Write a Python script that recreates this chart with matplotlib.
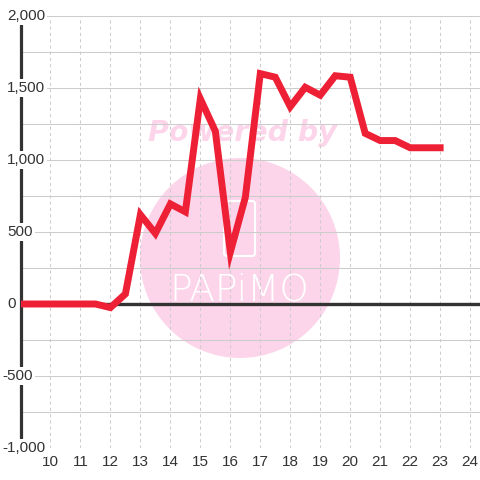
import numpy as np
import matplotlib
matplotlib.use("Agg")
import matplotlib.pyplot as plt
import matplotlib.transforms as mtransforms
from matplotlib.patches import Circle, FancyBboxPatch

# データ (時刻, 差枚)
hours = [9, 9.5, 10, 10.5, 11, 11.5, 12, 12.5, 13, 13.5, 14, 14.5, 15, 15.5,
         16, 16.5, 17, 17.5, 18, 18.5, 19, 19.5, 20, 20.5, 21, 21.5, 22, 22.5, 23]
values = [0, 0, 0, 0, 0, 0, -25, 70, 620, 490, 695, 640, 1425, 1200,
          360, 740, 1600, 1575, 1370, 1505, 1450, 1585, 1575, 1185, 1135, 1135, 1085, 1085, 1085]
x_ticks = list(range(10, 25))
y_labels = [2000, 1500, 1000, 500, 0, -500, -1000]

plt.rcParams['font.family'] = ['Liberation Sans', 'DejaVu Sans']
txt_color = '#333333'
grid_color = '#cccccc'
pink = '#fcd5ea'

fig = plt.figure(figsize=(4.8, 4.8), dpi=100)
ax = fig.add_axes([20.5 / 480, 32 / 480, 459.5 / 480, 432 / 480])
ax.set_xlim(9, 24.33)
ax.set_ylim(-1000, 2000)
ax.set_axisbelow(True)

# grid
ax.set_xticks(x_ticks)
ax.set_yticks(np.arange(-1000, 2001, 250))
ax.xaxis.grid(True, color=grid_color, lw=0.75, linestyle=(0, (3, 3)))
ax.yaxis.grid(True, color=grid_color, lw=0.75)
ax.tick_params(axis='both', length=0)
ax.tick_params(axis='x', labelsize=11, labelcolor=txt_color, pad=5)
ax.set_yticklabels([])

for side in ['top', 'right', 'bottom']:
    ax.spines[side].set_visible(False)
ax.spines['left'].set_color(txt_color)
ax.spines['left'].set_linewidth(2.3)

# watermark
ax.add_patch(Circle((240 / 480, 222 / 480), 100 / 480, transform=fig.transFigure,
                    fc=pink, ec='none', zorder=0.2))
ax.text(242 / 480, 347 / 480, 'Powered by', transform=fig.transFigure,
        ha='center', va='center', fontsize=20.5, fontweight='bold', style='italic',
        family='DejaVu Sans', color=pink, zorder=0.3)
ax.add_patch(FancyBboxPatch((224 / 480, 224 / 480), 31 / 480, 55 / 480,
                            boxstyle='round,pad=0,rounding_size=0.006',
                            transform=fig.transFigure, fc='none', ec='white',
                            lw=1.5, zorder=0.3))
ax.text(239 / 480, 190 / 480, 'PAPiMO', transform=fig.transFigure,
        ha='center', va='center', fontsize=27, fontweight='light',
        family='DejaVu Sans', color='white', zorder=0.3)

# y labels drawn over the spine
trans = mtransforms.blended_transform_factory(ax.transAxes, ax.transData)
for v in y_labels:
    xpos = -18.5 / 459.5 if v < 0 else -13.5 / 459.5
    ax.text(xpos, v, '{:,}'.format(v), transform=trans, ha='left', va='center',
            fontsize=11, color=txt_color, clip_on=False, zorder=5,
            bbox=dict(fc='white', ec='none', pad=1.5))

ax.axhline(0, color=txt_color, lw=2.4, zorder=2)
ax.plot(hours, values, color='#ee2035', lw=5, solid_joinstyle='miter', zorder=3)

fig.savefig('out.png', dpi=100)
